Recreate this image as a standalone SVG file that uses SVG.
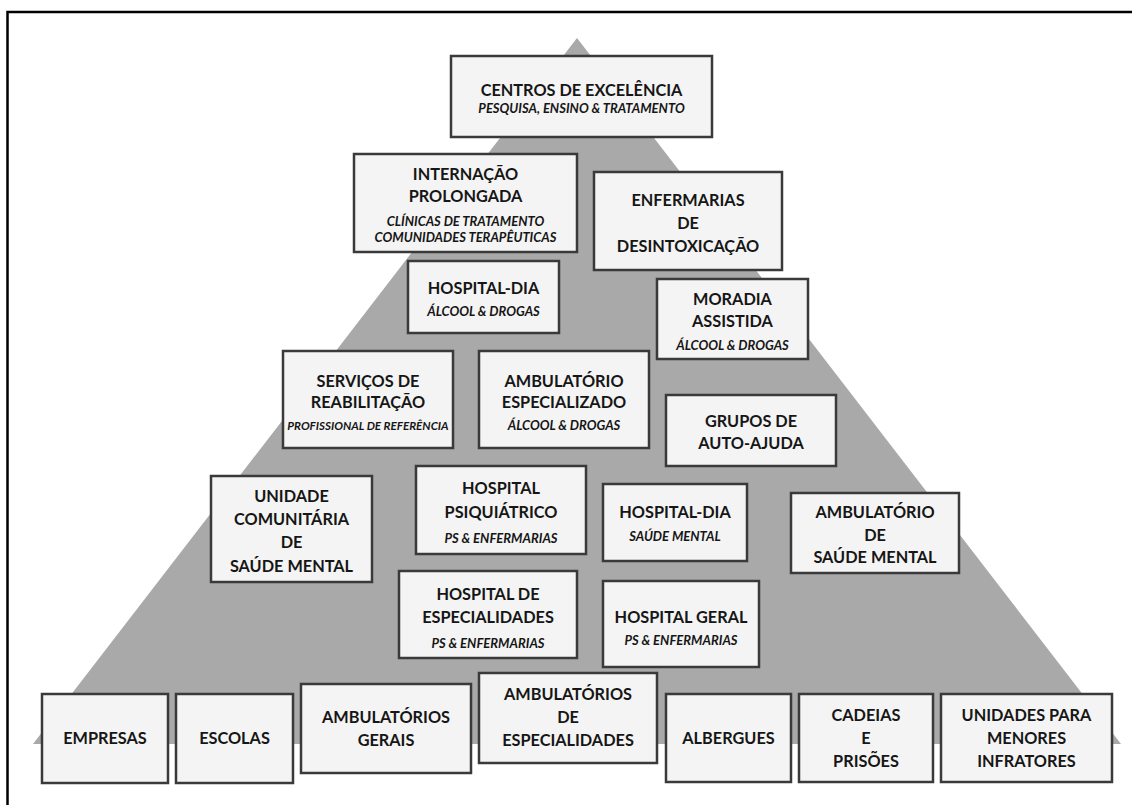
<svg xmlns="http://www.w3.org/2000/svg" width="1132" height="805" viewBox="0 0 1132 805">
  <style>
    .frame { fill: none; stroke: #000; stroke-width: 2.5; }
    .pyramid { fill: #a9a9a9; }
    .box { fill: #f4f4f4; stroke: #3a3a3a; stroke-width: 2.5; }
    .t { font-family: Lato, "Liberation Sans", sans-serif; font-weight: 700; font-size: 16.3px; fill: #161616; text-anchor: middle; }
    .s { font-family: Lato, "Liberation Sans", sans-serif; font-weight: 700; font-style: italic; font-size: 13px; fill: #161616; text-anchor: middle; }
    .s-narrow { font-size: 11.6px; }
  </style>

  <rect width="1132" height="805" fill="#fff"/>
  <!-- outer frame (open at bottom and right) -->
  <path class="frame" d="M7.5,805 V12 H1132"/>

  <!-- background pyramid -->
  <polygon class="pyramid" points="577,38 33,744 1121,744"/>

  <g id="connectors"></g>

  <g id="centros">
    <rect class="box" x="451" y="56" width="261" height="81"/>
    <text class="t" x="581.5" y="96">CENTROS DE EXCELÊNCIA</text>
    <text class="s" x="581.5" y="113">PESQUISA, ENSINO &amp; TRATAMENTO</text>
  </g>

  <g id="internacao">
    <rect class="box" x="354" y="154" width="223" height="98"/>
    <text class="t" x="465.5" y="180">INTERNAÇÃO</text>
    <text class="t" x="465.5" y="202">PROLONGADA</text>
    <text class="s" x="465.5" y="226">CLÍNICAS DE TRATAMENTO</text>
    <text class="s" x="465.5" y="242">COMUNIDADES TERAPÊUTICAS</text>
  </g>

  <g id="enfermarias">
    <rect class="box" x="594" y="172" width="188" height="98"/>
    <text class="t" x="688" y="206">ENFERMARIAS</text>
    <text class="t" x="688" y="229">DE</text>
    <text class="t" x="688" y="252">DESINTOXICAÇÃO</text>
  </g>

  <g id="hospital-dia-ad">
    <rect class="box" x="408" y="261" width="151" height="72"/>
    <text class="t" x="483.5" y="294">HOSPITAL-DIA</text>
    <text class="s" x="483.5" y="316">ÁLCOOL &amp; DROGAS</text>
  </g>

  <g id="moradia">
    <rect class="box" x="657" y="279" width="151" height="80"/>
    <text class="t" x="732.5" y="305">MORADIA</text>
    <text class="t" x="732.5" y="327">ASSISTIDA</text>
    <text class="s" x="732.5" y="350">ÁLCOOL &amp; DROGAS</text>
  </g>

  <g id="servicos">
    <rect class="box" x="283" y="351" width="170" height="97"/>
    <text class="t" x="368" y="387">SERVIÇOS DE</text>
    <text class="t" x="368" y="408">REABILITAÇÃO</text>
    <text class="s s-narrow" x="368" y="430">PROFISSIONAL DE REFERÊNCIA</text>
  </g>

  <g id="ambulatorio-especializado">
    <rect class="box" x="479" y="351" width="170" height="97"/>
    <text class="t" x="564" y="387">AMBULATÓRIO</text>
    <text class="t" x="564" y="408">ESPECIALIZADO</text>
    <text class="s" x="564" y="430">ÁLCOOL &amp; DROGAS</text>
  </g>

  <g id="grupos">
    <rect class="box" x="666" y="395" width="170" height="71"/>
    <text class="t" x="751" y="427">GRUPOS DE</text>
    <text class="t" x="751" y="449">AUTO-AJUDA</text>
  </g>

  <g id="unidade-comunitaria">
    <rect class="box" x="211" y="476" width="161" height="106"/>
    <text class="t" x="291.5" y="502">UNIDADE</text>
    <text class="t" x="291.5" y="525">COMUNITÁRIA</text>
    <text class="t" x="291.5" y="548">DE</text>
    <text class="t" x="291.5" y="572">SAÚDE MENTAL</text>
  </g>

  <g id="hospital-psiquiatrico">
    <rect class="box" x="416" y="466" width="170" height="88"/>
    <text class="t" x="501" y="494">HOSPITAL</text>
    <text class="t" x="501" y="518">PSIQUIÁTRICO</text>
    <text class="s" x="501" y="543">PS &amp; ENFERMARIAS</text>
  </g>

  <g id="hospital-dia-sm">
    <rect class="box" x="603" y="484" width="144" height="77"/>
    <text class="t" x="675" y="518">HOSPITAL-DIA</text>
    <text class="s" x="675" y="541">SAÚDE MENTAL</text>
  </g>

  <g id="ambulatorio-sm">
    <rect class="box" x="791" y="493" width="168" height="80"/>
    <text class="t" x="875" y="518">AMBULATÓRIO</text>
    <text class="t" x="875" y="541">DE</text>
    <text class="t" x="875" y="563">SAÚDE MENTAL</text>
  </g>

  <g id="hospital-especialidades">
    <rect class="box" x="399" y="571" width="178" height="87"/>
    <text class="t" x="488" y="600">HOSPITAL DE</text>
    <text class="t" x="488" y="623">ESPECIALIDADES</text>
    <text class="s" x="488" y="648">PS &amp; ENFERMARIAS</text>
  </g>

  <g id="hospital-geral">
    <rect class="box" x="603" y="581" width="156" height="86"/>
    <text class="t" x="681" y="623">HOSPITAL GERAL</text>
    <text class="s" x="681" y="645">PS &amp; ENFERMARIAS</text>
  </g>

  <g id="empresas">
    <rect class="box" x="42" y="694" width="126" height="89"/>
    <text class="t" x="105" y="744">EMPRESAS</text>
  </g>

  <g id="escolas">
    <rect class="box" x="176" y="694" width="117" height="89"/>
    <text class="t" x="234.5" y="744">ESCOLAS</text>
  </g>

  <g id="ambulatorios-gerais">
    <rect class="box" x="301" y="684" width="170" height="89"/>
    <text class="t" x="386" y="723">AMBULATÓRIOS</text>
    <text class="t" x="386" y="746">GERAIS</text>
  </g>

  <g id="ambulatorios-especialidades">
    <rect class="box" x="479" y="673" width="178" height="90"/>
    <text class="t" x="568" y="700">AMBULATÓRIOS</text>
    <text class="t" x="568" y="723">DE</text>
    <text class="t" x="568" y="746">ESPECIALIDADES</text>
  </g>

  <g id="albergues">
    <rect class="box" x="666" y="694" width="125" height="88"/>
    <text class="t" x="728.5" y="744">ALBERGUES</text>
  </g>

  <g id="cadeias">
    <rect class="box" x="799" y="694" width="134" height="88"/>
    <text class="t" x="866" y="721">CADEIAS</text>
    <text class="t" x="866" y="744">E</text>
    <text class="t" x="866" y="767">PRISÕES</text>
  </g>

  <g id="menores-infratores">
    <rect class="box" x="941" y="694" width="171" height="88"/>
    <text class="t" x="1026.5" y="721">UNIDADES PARA</text>
    <text class="t" x="1026.5" y="744">MENORES</text>
    <text class="t" x="1026.5" y="767">INFRATORES</text>
  </g>
</svg>
